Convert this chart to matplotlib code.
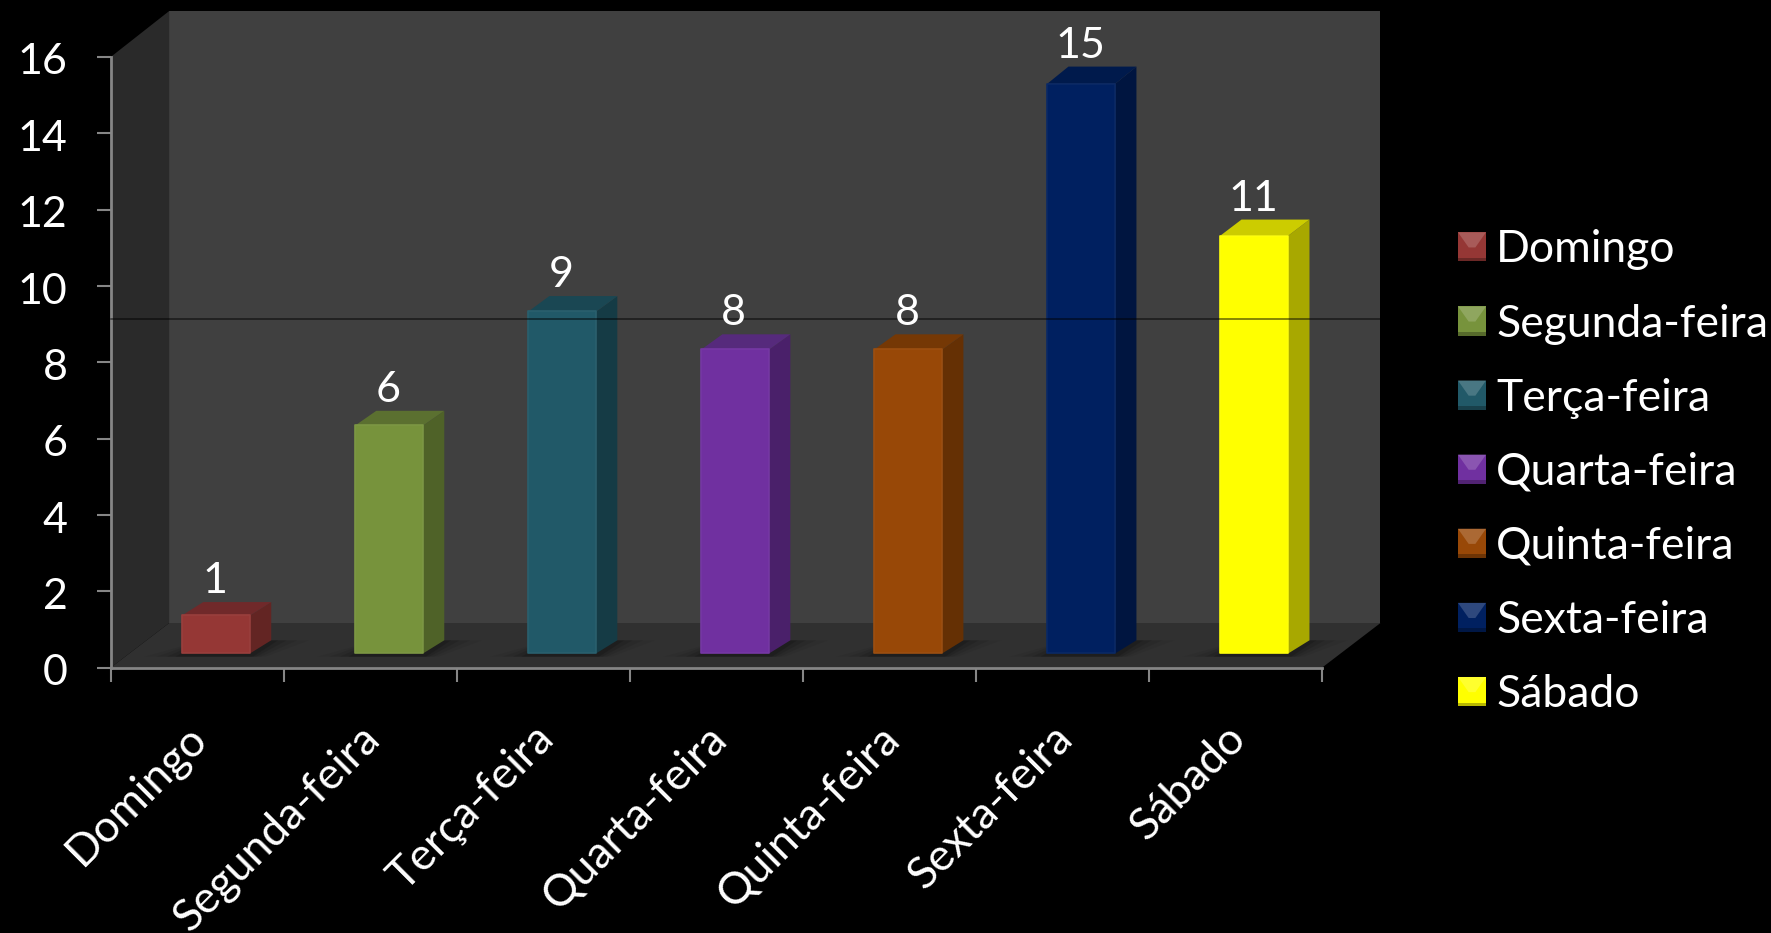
import matplotlib
matplotlib.use("Agg")
import matplotlib.pyplot as plt
from matplotlib.patches import Polygon, Rectangle
from matplotlib.legend_handler import HandlerPatch
from matplotlib.colors import to_rgb
from matplotlib.transforms import ScaledTranslation

plt.rcParams['font.family'] = ['Lato', 'DejaVu Sans']

days = ["Domingo", "Segunda-feira", "Terça-feira", "Quarta-feira",
        "Quinta-feira", "Sexta-feira", "Sábado"]
values = [1, 6, 9, 8, 8, 15, 11]
front = ["#953735", "#77933C", "#215968", "#7030A0", "#984807", "#002060", "#FFFF00"]
side = ["#632523", "#4F6228", "#153B45", "#4A206A", "#653004", "#001540", "#A8A800"]
top = ["#70292A", "#5B7030", "#1A4753", "#562A7C", "#753805", "#001A4C", "#CCCC00"]
yticks = [0, 2, 4, 6, 8, 10, 12, 14, 16]

W, H = 1771, 933
fig = plt.figure(figsize=(W / 100, H / 100), dpi=100, facecolor="black")
L, R, B, T = 110.7, 1322.0, 667.7, 57.0
ax = fig.add_axes([L / W, 1 - B / H, (R - L) / W, (B - T) / H])
ax.set_xlim(-0.5, 6.5)
ax.set_ylim(0, 16)
ax.patch.set_visible(False)
ux = (R - L) / 7      # px per category
uy = (B - T) / 16     # px per value
DX, DY = 58.5 / ux, 44.7 / uy      # full chart depth
DYT = 46.0 / uy
bx, by = 19.0 / ux, 14.4 / uy      # bar offset from the front
dx, dy = 21.0 / ux, 13.0 / uy      # bar depth at the floor
persp = 0.27 / uy                  # extra depth per value unit (perspective)
bw = 68.0 / ux
hs = 0.995                          # bars sit slightly deeper than the front scale


def poly(pts, color, z, alpha=1.0):
    ax.add_patch(Polygon(pts, closed=True, fc=color, ec="none", zorder=z,
                         alpha=alpha, clip_on=False))


def mix(c, f):
    return tuple(min(1, p + (1 - p) * f) for p in to_rgb(c))


x0, x1 = -0.5, 6.5
poly([(x0 + DX, DY), (x1 + DX, DY), (x1 + DX, 16 + DYT), (x0 + DX, 16 + DYT)], "#404040", 0)
poly([(x0, 0), (x0 + DX, DY), (x0 + DX, 16 + DYT), (x0, 16)], "#2A2A2A", 0)
poly([(x0, 0), (x1, 0), (x1 + DX, DY), (x0 + DX, DY)], "#303030", 0)
ax.plot([x0, x1 + DX], [9.13] * 2, color="#000000", lw=1.1, alpha=0.6, zorder=6,
        clip_on=False)

for i, v in enumerate(values):
    h = v * hs
    xl = i + bx - bw / 2
    xr = xl + bw
    dt = dy + persp * v
    # soft floor shadow
    for k, a in zip((0.22, 0.15, 0.09, 0.04), (0.05, 0.08, 0.10, 0.14)):
        poly([(xl - k, by - 0.09), (xr + k * 0.4, by - 0.09),
              (xr + dx + k, by + dy), (xl + dx, by + dy)], "#000000", 1, a)
    ax.bar(i + bx, h, width=bw, bottom=by, color=front[i], zorder=3,
           edgecolor=mix(front[i], 0.04), linewidth=1.2, joinstyle="round")
    poly([(xr, by), (xr + dx, by + dy), (xr + dx, by + h + dt), (xr, by + h)], side[i], 2)
    poly([(xl, by + h), (xr, by + h), (xr + dx, by + h + dt), (xl + dx, by + h + dt)], top[i], 2)
    ax.text(i + bx - 1.5 / ux, by + h + dt + 0.235, str(v), color="white", fontsize=31,
            ha="center", va="baseline", zorder=7, clip_on=False)

for s in ("top", "right"):
    ax.spines[s].set_visible(False)
for s in ("left", "bottom"):
    ax.spines[s].set_color("#868686")
    ax.spines[s].set_linewidth(2)
    ax.spines[s].set_zorder(5)

ax.set_yticks(yticks)
ax.set_xticks([i - 0.5 for i in range(len(days) + 1)])
ax.set_xticklabels([])
ax.set_xticks(range(len(days)), minor=True)
ax.set_xticklabels(days, minor=True, rotation=45, ha="right", va="top",
                   rotation_mode="anchor", color="white", fontsize=32)
ax.tick_params(axis="x", which="minor", length=0, pad=38)
ax.tick_params(axis="x", which="major", length=10, width=1.5, color="#868686")
ax.tick_params(axis="y", length=10, width=1.5, color="#868686", labelcolor="white",
               labelsize=31, pad=21)
shift_x = ScaledTranslation(-11 / 100, 3 / 100, fig.dpi_scale_trans)
for lab in ax.get_xticklabels(minor=True):
    lab.set_transform(lab.get_transform() + shift_x)
shift_y = ScaledTranslation(0, -2 / 100, fig.dpi_scale_trans)
for lab in ax.get_yticklabels():
    lab.set_transform(lab.get_transform() + shift_y)


class Bevel(HandlerPatch):
    def create_artists(self, legend, orig, xd, yd, w, h, fs, trans):
        c = to_rgb(orig.get_facecolor())
        dark = lambda f: tuple(p * f for p in c)
        x, y = -xd, -yd
        arts = [Rectangle((x, y), w, h, fc=c, ec="none"),
                Polygon([(x, y + h), (x + w, y + h), (x + w * 0.62, y + h * 0.48),
                         (x + w * 0.38, y + h * 0.48)], fc=mix(c, 0.18), ec="none"),
                Rectangle((x, y), w, h * 0.12, fc=dark(0.72), ec="none")]
        for a in arts:
            a.set_transform(trans)
        return arts


handles = [Rectangle((0, 0), 1, 1, fc=c) for c in front]
leg = fig.legend(handles, days, loc="upper left", bbox_to_anchor=(1458 / W, 1 - 229.5 / H),
                 frameon=False, labelcolor="white", fontsize=32, handlelength=0.63,
                 handleheight=0.63, handletextpad=0.23, labelspacing=0.745,
                 borderpad=0, borderaxespad=0,
                 handler_map={Rectangle: Bevel()})

fig.savefig("out.png", dpi=100, facecolor="black")
